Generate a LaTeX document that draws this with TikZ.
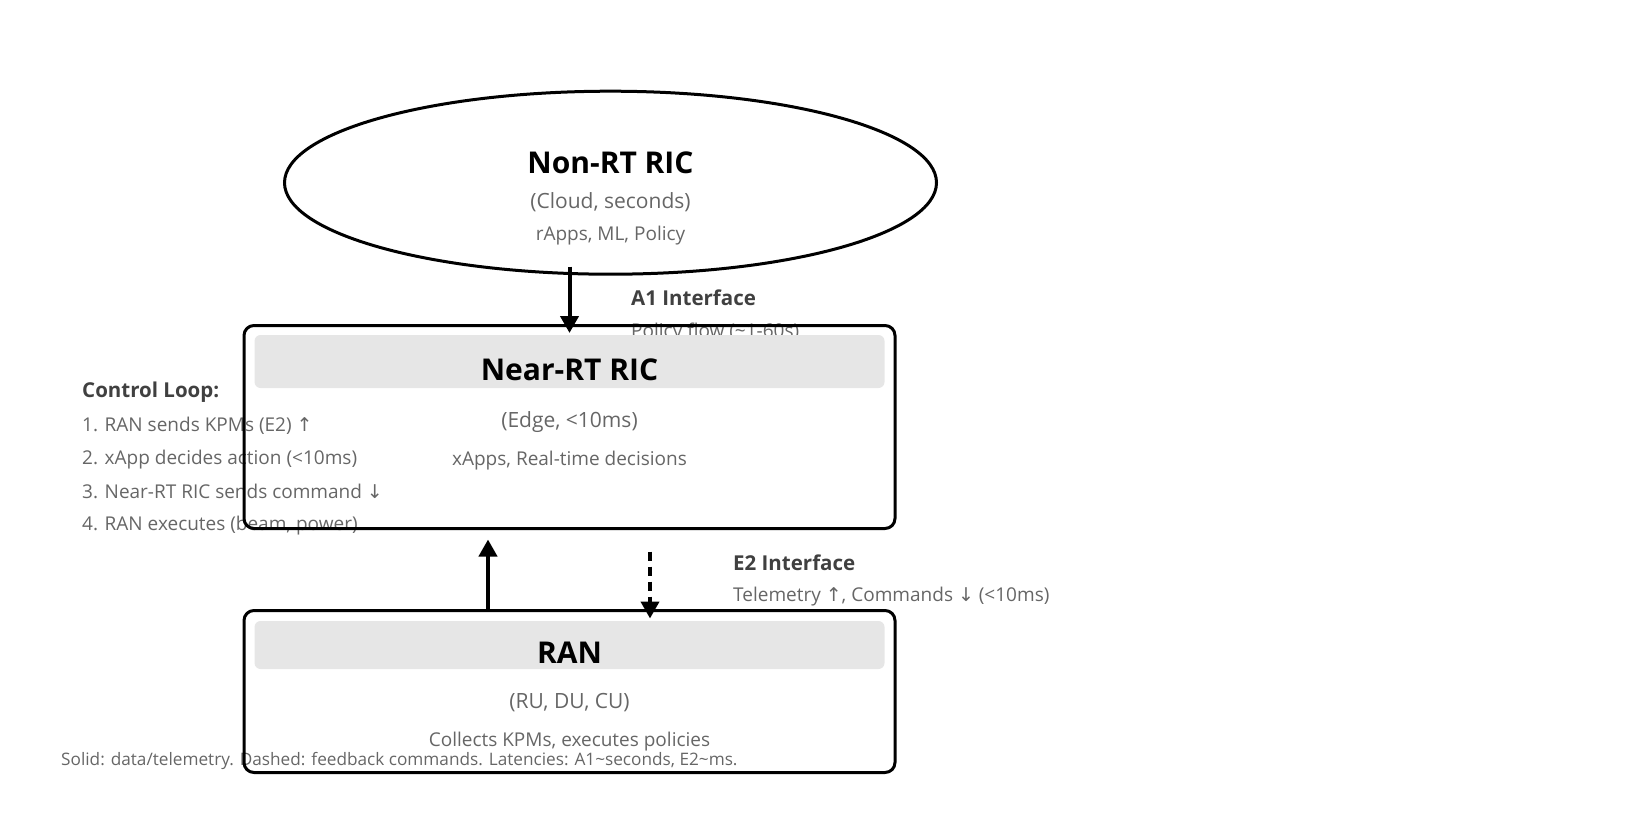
\documentclass[tikz,border=0pt]{standalone}
\usepackage{fontspec}
\setmainfont{Open Sans}
\newfontfamily\symfont{DejaVu Sans}
\usetikzlibrary{arrows.meta,positioning,shapes.geometric}
\definecolor{ricgray}{RGB}{102,102,102}
\definecolor{ricdark}{RGB}{64,64,64}
\definecolor{richead}{RGB}{230,230,230}
\newcommand{\uparr}{{\symfont ↑}}
\newcommand{\dnarr}{{\symfont ↓}}

\begin{document}
\begin{tikzpicture}[x=1pt, y=-1pt,
  layer/.style={draw, line width=3pt, rounded corners=10pt,
    minimum width=651pt, inner sep=0pt},
  head/.style={fill=richead, rounded corners=6pt,
    minimum width=630pt, inner sep=0pt},
  txt/.style={text height=0.75em, text depth=0.25em, inner sep=0pt, yshift=-5.5pt},
  title/.style={txt, yshift=-3pt, font=\fontsize{30}{34}\selectfont\bfseries},
  sub/.style={txt, font=\fontsize{21}{25}\selectfont, text=ricgray},
  small/.style={txt, font=\fontsize{19}{23}\selectfont, text=ricgray},
  note/.style={txt, font=\fontsize{19}{23}\selectfont, text=ricgray, anchor=west},
  ifname/.style={txt, font=\fontsize{20.5}{24}\selectfont\bfseries, text=ricdark, anchor=west},
  arr/.style={-{Triangle[length=17pt,width=18pt]}, line width=4pt}]
\useasboundingbox (0,0) rectangle (1628,816);
% Left: control loop notes
\node[ifname] (loop) at (82,389) {Control Loop:};
\node[note] (loop1) at (82,423.6) {1. RAN sends KPMs (E2) \uparr};
\node[note] (loop2) at (82,456.9) {2. xApp decides action (<10ms)};
\node[note] (loop3) at (82,490) {3. Near-RT RIC sends command \dnarr};
\node[note] (loop4) at (82,522) {4. RAN executes (beam, power)};
% Interface labels
\node[ifname] (a1) at (631,297) {A1 Interface};
\node[note] (a1sub) at (631,329) {Policy flow (\textasciitilde1-60s)};
\node[ifname] (e2) at (733,562) {E2 Interface};
\node[note] (e2sub) at (733,593) {Telemetry \uparr, Commands \dnarr\ (<10ms)};
% Footer
\node[note, font=\fontsize{17.2}{20}\selectfont] (legend) at (61,757)
  {Solid: data/telemetry. Dashed: feedback commands. Latencies: A1\textasciitilde seconds, E2\textasciitilde ms.};
% Top: Non-RT RIC
\node[ellipse, draw, line width=3pt, minimum width=652pt, minimum height=183pt]
  (nonrt) at (610.5,182.7) {};
\node[title] at (610.5,162) {Non-RT RIC};
\node[sub] at (610.5,200) {(Cloud, seconds)};
\node[small] at (610.5,232.6) {rApps, ML, Policy};
% Middle: Near-RT RIC
\node[layer, minimum height=203pt] (nearrt) at (569.5,427) {};
\node[head, minimum height=53pt] (nearhead) at (569.5,361.5) {};
\node[title] at (569.5,369.6) {Near-RT RIC};
\node[sub] at (569.5,419.5) {(Edge, <10ms)};
\node[small] at (569.5,457) {xApps, Real-time decisions};
% Bottom: RAN
\node[layer, minimum height=162pt] (ran) at (569.5,691.5) {};
\node[head, minimum height=48pt] (ranhead) at (569.5,645) {};
\node[title] at (569.5,652) {RAN};
\node[sub] at (569.5,700) {(RU, DU, CU)};
\node[small] at (569.5,738) {Collects KPMs, executes policies};
% Connectors
\draw[arr] ([yshift=9pt]nonrt.south -| nearrt.north) -- ([yshift=-9pt]nearrt.north);
\draw[arr] ([xshift=-81.5pt]ran.north) -- ([xshift=-81.5pt, yshift=-9.5pt]nearrt.south);
\draw[arr, dash pattern=on 9pt off 6pt] ([xshift=80.5pt, yshift=-21.5pt]nearrt.south)
  -- ([xshift=80.5pt, yshift=-9.5pt]ran.north);
\end{tikzpicture}
\end{document}
